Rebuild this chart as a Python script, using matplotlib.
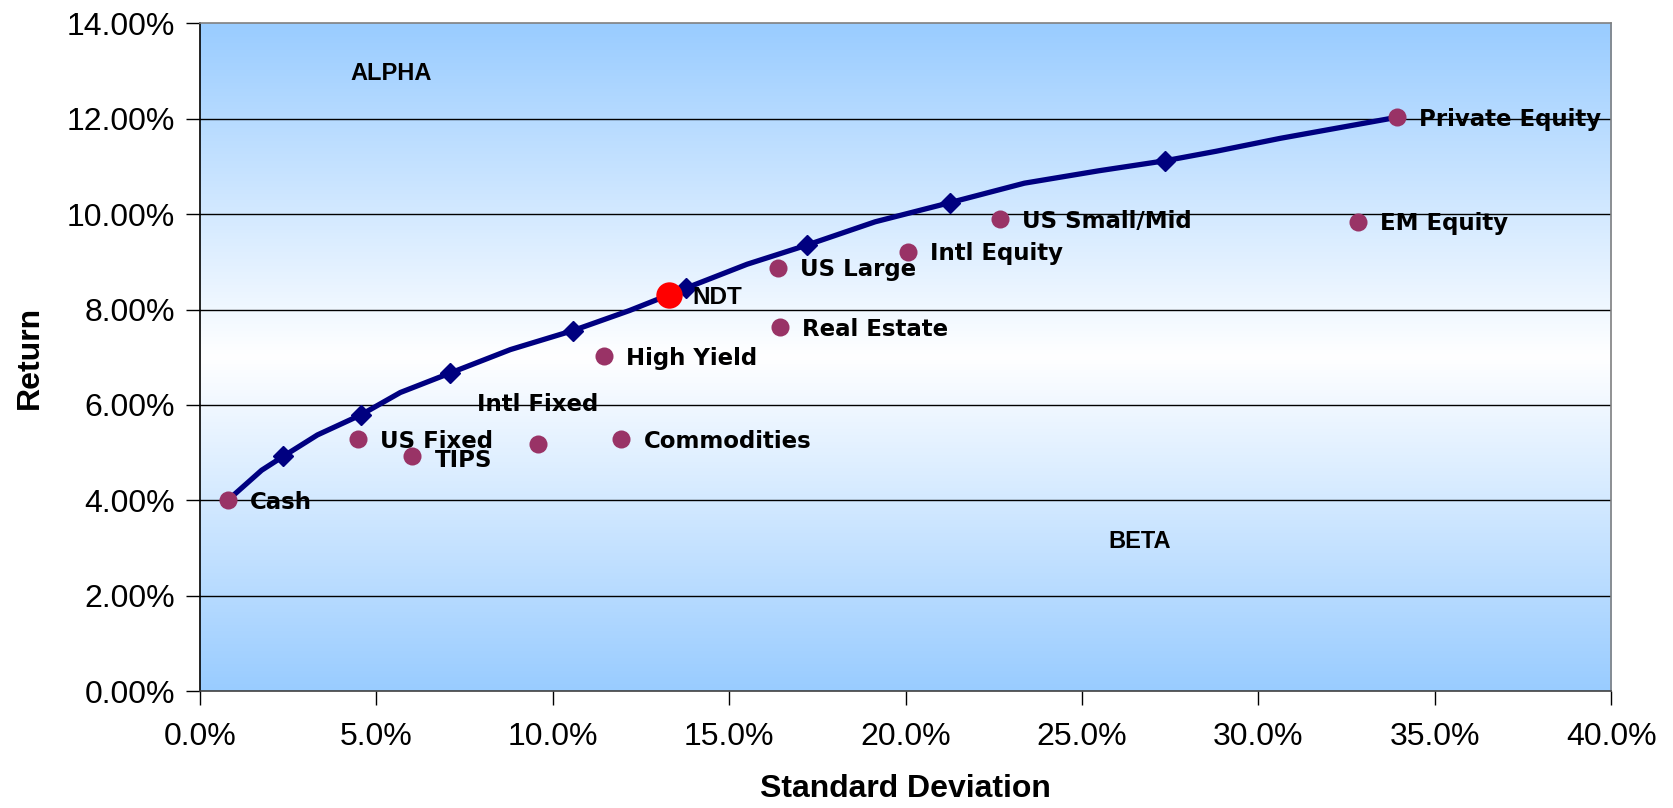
import numpy as np
import matplotlib
matplotlib.use('Agg')
import matplotlib.pyplot as plt
from matplotlib.ticker import FuncFormatter

# asset classes: standard deviation (%) and return (%)
assets = ['Cash', 'US Fixed', 'TIPS', 'Intl Fixed', 'Commodities', 'High Yield',
          'US Large', 'Real Estate', 'Intl Equity', 'US Small/Mid', 'EM Equity',
          'Private Equity']
asset_sd = [0.79, 4.47, 6.02, 9.58, 11.94, 11.46, 16.38, 16.44, 20.07, 22.67, 32.83, 33.92]
asset_ret = [4.00, 5.28, 4.92, 5.19, 5.28, 7.02, 8.88, 7.63, 9.21, 9.89, 9.84, 12.03]

# the portfolio itself
ndt_sd = 13.30
ndt_ret = 8.30

# efficient frontier
frontier_sd = [0.79, 1.75, 2.36, 3.33, 4.56, 5.68, 7.10, 8.80, 10.58, 12.18, 13.78,
               15.51, 17.20, 19.14, 21.25, 23.37, 25.48, 27.36, 28.81, 30.62, 33.92]
frontier_ret = [4.00, 4.63, 4.92, 5.37, 5.79, 6.26, 6.67, 7.16, 7.56, 7.98, 8.45,
                8.95, 9.35, 9.84, 10.24, 10.65, 10.91, 11.12, 11.32, 11.59, 12.03]
frontier_marks = [2, 4, 6, 8, 10, 12, 14, 17]

sans = 'Liberation Sans'

fig = plt.figure(figsize=(16.73, 8.08), dpi=100)
ax = fig.add_axes([0.1195, 0.1448, 0.8435, 0.8262])

# blue -> white -> blue background
yy = np.linspace(0, 14, 400)
t = np.clip(np.abs(yy - 7.0) / 7.0, 0, 1)
blue = np.array([153, 204, 255]) / 255.0
white = np.ones(3)
grad = white[None, :] * (1 - t[:, None]) + blue[None, :] * t[:, None]
ax.imshow(grad[:, None, :], extent=[0, 40, 0, 14], origin='lower', aspect='auto',
          zorder=0, interpolation='bilinear')

for g in np.arange(2, 14, 2):
    ax.axhline(g, color='black', lw=1.0, zorder=1)

ax.plot(frontier_sd, frontier_ret, color='#000080', lw=3.8, marker='D',
        markersize=10, markevery=frontier_marks, zorder=3)

ax.plot(asset_sd, asset_ret, 'o', color='#993366', markersize=13, zorder=4,
        markeredgewidth=0)
ax.plot([ndt_sd], [ndt_ret], 'o', color='#ff0000', markersize=19, zorder=5,
        markeredgewidth=0)

label_style = dict(fontsize=16.5, fontweight='bold', family='DejaVu Sans', zorder=6)
offsets = {'TIPS': (16, -3), 'Intl Fixed': (0, 28)}
for name, x, y in zip(assets, asset_sd, asset_ret):
    dx, dy = offsets.get(name, (16, -1.5))
    ha = 'center' if name == 'Intl Fixed' else 'left'
    ax.annotate(name, (x, y), xytext=(dx, dy), textcoords='offset points',
                ha=ha, va='center', **label_style)
ax.annotate('NDT', (ndt_sd, ndt_ret), xytext=(17, -1.5), textcoords='offset points',
            ha='left', va='center', fontsize=17.5, fontweight='bold',
            family=sans, zorder=6)

ax.text(5.41, 12.95, 'ALPHA', fontsize=17, fontweight='bold', family=sans,
        ha='center', va='center', zorder=6)
ax.text(26.63, 3.13, 'BETA', fontsize=17, fontweight='bold', family=sans,
        ha='center', va='center', zorder=6)

ax.set_xlim(0, 40)
ax.set_ylim(0, 14)
ax.set_xticks(np.arange(0, 41, 5))
ax.set_yticks(np.arange(0, 15, 2))
ax.xaxis.set_major_formatter(FuncFormatter(lambda v, p: f'{v:.1f}%'))
ax.yaxis.set_major_formatter(FuncFormatter(lambda v, p: f'{v:.2f}%'))
ax.tick_params(axis='both', direction='out', length=10, width=1, colors='black',
               labelsize=23)
ax.tick_params(axis='x', pad=12)
ax.tick_params(axis='y', pad=8)
for lab in ax.get_xticklabels() + ax.get_yticklabels():
    lab.set_family(sans)

ax.spines['left'].set_color('black')
ax.spines['bottom'].set_color('#404040')
ax.spines['top'].set_color('#808080')
ax.spines['right'].set_color('#808080')
for s in ax.spines.values():
    s.set_linewidth(1.2)

# axis titles
fig.text(0.541, 0.0235, 'Standard Deviation', fontsize=23, fontweight='bold',
         family=sans, ha='center', va='center')
fig.text(0.018, 0.558, 'Return', fontsize=23, fontweight='bold', family=sans,
         ha='center', va='center', rotation=90)

plt.savefig('out.png', dpi=100)
